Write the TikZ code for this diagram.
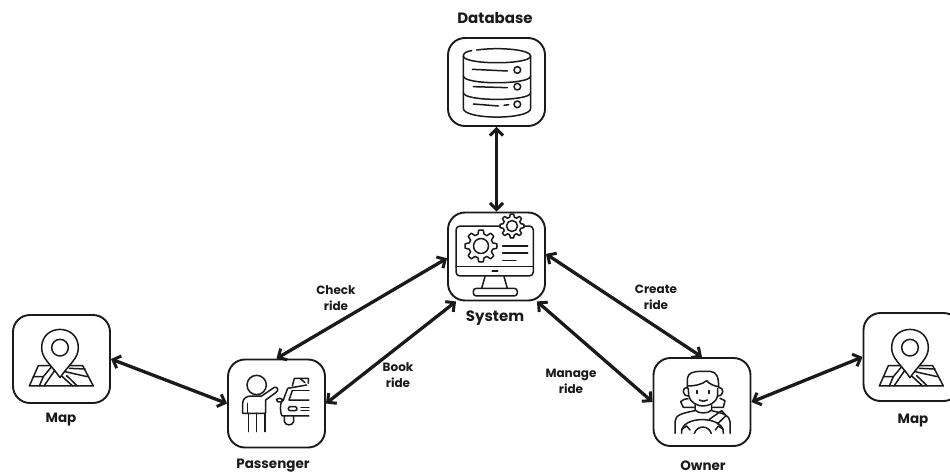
\documentclass[tikz,border=0pt]{standalone}
\usepackage{fontspec}
\setmainfont{Poppins}
\usetikzlibrary{arrows.meta}
\definecolor{ink}{HTML}{1A1A1A}
\tikzset{
  card/.style={draw=ink,line width=1.9pt,rounded corners=17pt,minimum width=#1,minimum height=88pt,inner sep=0pt,fill=white},
  card/.default=97pt,
  title/.style={font=\bfseries\fontsize{15}{17}\selectfont,text=ink,inner sep=0pt},
  subtitle/.style={font=\bfseries\fontsize{13.5}{16}\selectfont,text=ink,inner sep=0pt},
  flow/.style={font=\bfseries\fontsize{12}{16}\selectfont,text=ink,align=center,inner sep=0pt},
  link/.style={draw=ink,line width=3.3pt,{Straight Barb[length=6.5pt,width=13pt,line width=3pt]}-{Straight Barb[length=6.5pt,width=13pt,line width=3pt]}},
  icon/.style={draw=ink,line width=1.5pt,line cap=round,line join=round},
  zoomed/.style={x=0.3333pt,y=-0.3333pt},
  mapicon/.pic={
    \begin{scope}[icon,zoomed]
      \draw (115,182) -- (88,243) -- (280,243) -- (248,182) -- cycle;
      \draw (100,215) -- (130,215) -- (118,243);
      \draw (130,215) -- (155,185);
      \draw (132,243) -- (165,195) -- (218,243);
      \draw (195,200) -- (262,215);
      \draw (200,212) -- (232,243);
      \draw (208,190) -- (255,192);
      \draw[fill=white] (180,218) .. controls (150,175) and (125,160) .. (125,128)
        .. controls (125,55) and (235,55) .. (235,128)
        .. controls (235,160) and (210,175) .. (180,218) -- cycle;
      \draw (180,128) circle (25);
    \end{scope}
  }
}
\newcommand{\gearpath}[4]{%
  \draw[icon,fill=white] plot[domain=0:360,samples=145,smooth cycle] (\x+#4:{#1-#2*0.5+#2*0.5*max(-1,min(1,2.2*cos(8*\x)))});
}
\begin{document}
\begin{tikzpicture}[x=1pt,y=-1pt]
\useasboundingbox (0,0) rectangle (950,474);
\clip (0,0) rectangle (950,474);

% cards
\node[card] (db)   at (496.5,82)  {};
\node[card] (sys)  at (496.5,256.5) {};
\node[card] (mapl) at (61.5,359)  {};
\node[card] (pas)  at (276.5,403.5) {};
\node[card] (own)  at (702,402)   {};
\node[card] (mapr) at (912,357)   {};

% database icon
\begin{scope}[icon,shift={(430,0)},zoomed]
  \draw (140,150) .. controls (215,140) and (302,150) .. (302,168)
        .. controls (302,195) and (100,195) .. (100,168)
        .. controls (100,158) and (112,154) .. (125,152);
  \draw (100,168) -- (100,325) .. controls (100,360) and (302,360) .. (302,325) -- (302,168);
  \draw (100,228) .. controls (100,255) and (302,255) .. (302,228);
  \draw (100,278) .. controls (100,305) and (302,305) .. (302,278);
  \draw (127,208) -- (232,213);
  \draw (262,210) circle (10);
  \draw (130,260) -- (232,263);
  \draw (262,260) circle (10);
  \draw (130,312) -- (205,318);
  \draw (222,316) -- (236,314);
  \draw (262,313) circle (10);
\end{scope}

% system icon
\begin{scope}[icon,shift={(430,200)},zoomed]
  \draw[rounded corners=4pt] (78,78) rectangle (310,228);
  \draw (78,200) -- (310,200);
  \draw[line width=1.8pt] (187,214) -- (203,214);
  \draw (165,230) -- (155,265);
  \draw (222,230) -- (232,265);
  \draw[rounded corners=3pt] (130,265) rectangle (262,288);
  \draw (218,138) -- (293,138);
  \draw (218,159) -- (293,159);
  \draw (218,181) -- (258,181);
\end{scope}
\begin{scope}[shift={(481,246)}]
  \gearpath{16}{4}{0}{0}
  \draw[icon] (0,0) circle (7.5);
\end{scope}
\begin{scope}[shift={(512,226)}]
  \gearpath{12}{3}{0}{0}
  \draw[icon] (0,0) circle (5.5);
\end{scope}

% map icons
\pic at (0,305) {mapicon};
\pic at (850,305) {mapicon};

% passenger icon
\begin{scope}[icon,shift={(215,350)},zoomed]
  \draw (125,105) circle (29);
  \draw (100,245) -- (100,190) (125,245) -- (125,190) (150,245) -- (150,190);
  \draw (83,190) -- (83,160) .. controls (83,145) and (95,138) .. (110,138)
        -- (140,138) -- (178,112) .. controls (190,110) and (192,122) .. (182,128)
        -- (152,150) -- (152,190) -- (83,190);
  \draw (98,160) -- (98,190);
  % car
  \draw (205,150) -- (218,115) -- (275,105);
  \draw (232,108) -- (238,85) -- (280,85) -- (280,100);
  \draw (255,85) -- (270,98);
  \draw (232,122) -- (222,150) -- (282,150);
  \draw (232,122) -- (282,122);
  \draw (205,150) .. controls (192,155) and (196,195) .. (202,198) -- (282,198);
  \draw (184,148) .. controls (190,142) and (200,145) .. (205,150) -- (198,156) .. controls (190,157) and (184,155) .. (184,148);
  \draw[rounded corners=2pt] (220,170) rectangle (246,182);
  \draw (258,172) -- (282,172) (258,182) -- (282,182);
  \draw (208,198) -- (208,215) .. controls (212,228) and (232,228) .. (236,215) -- (236,198);
\end{scope}

% owner icon
\begin{scope}[icon,shift={(640,350)},zoomed]
  \draw (142,115) -- (142,85) .. controls (145,68) and (160,64) .. (185,64)
        -- (210,64) .. controls (230,66) and (236,80) .. (236,112);
  \draw (142,108) .. controls (160,108) and (185,105) .. (200,92)
        .. controls (208,102) and (222,108) .. (236,110);
  \draw (145,115) -- (146,135) .. controls (150,160) and (175,168) .. (188,168)
        .. controls (205,168) and (230,160) .. (233,135) -- (233,115);
  \draw (142,112) .. controls (125,112) and (125,138) .. (146,138);
  \draw (236,112) .. controls (253,112) and (253,138) .. (233,138);
  \draw[line width=1.8pt] (172,122) -- (172,130) (207,122) -- (207,130);
  \draw (178,150) .. controls (185,155) and (195,155) .. (202,150);
  \draw (165,165) -- (165,180) .. controls (175,192) and (205,192) .. (215,180) -- (215,165);
  \draw (162,172) -- (130,172) -- (122,155);
  \draw (218,172) -- (250,172) -- (255,152) -- (240,145);
  \draw (122,155) .. controls (130,148) and (140,145) .. (144,147);
  \draw (105,250) -- (105,215) .. controls (106,195) and (125,190) .. (165,182);
  \draw (270,250) -- (270,215) .. controls (268,195) and (250,190) .. (215,182);
  \draw (208,208) -- (245,182) -- (258,197) -- (232,222);
  \draw (125,250) .. controls (118,195) and (255,195) .. (250,250);
  \draw (163,250) .. controls (172,225) and (205,225) .. (214,250);
  \draw (125,238) -- (140,228) -- (150,240) (250,238) -- (235,228) -- (226,240);
\end{scope}

% connectors
\draw[link] (db.south) -- (sys.north);
\draw[link] (sys.182) -- (pas.north);
\draw[link] (sys.228) -- (pas.east);
\draw[link] (sys.3) -- (own.north);
\draw[link] (sys.-48.5) -- (own.west);
\draw[link] (mapl.east) -- (pas.west);
\draw[link] (own.east) -- (mapr.west);

% titles
\node[title] (tdb)  at (495,18)  {Database};
\node[title] (tsys) at (495,318) {System};
\node[subtitle] (tml)  at (61,420)  {Map};
\node[subtitle] (tpas) at (273,466) {Passenger};
\node[subtitle] (town) at (703,466) {Owner};
\node[subtitle] (tmr)  at (913,421) {Map};

% flow labels
\node[flow] (lcheck)  at (336,298) {Check\\ride};
\node[flow] (lbook)   at (398,375) {Book\\ride};
\node[flow] (lcreate) at (656,297) {Create\\ride};
\node[flow] (lmanage) at (571,381) {Manage\\ride};
\end{tikzpicture}
\end{document}
